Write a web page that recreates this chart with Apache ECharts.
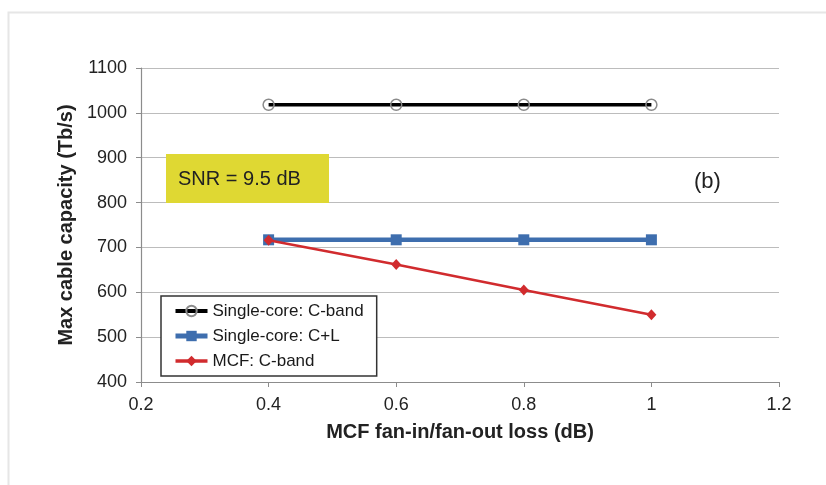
<!DOCTYPE html>
<html>
<head>
<meta charset="utf-8">
<script src="https://cdn.jsdelivr.net/npm/echarts@6/dist/echarts.min.js"></script>
<style>html,body{margin:0;padding:0;background:#fff}#c{width:826px;height:485px}</style>
</head>
<body>
<div id="c"></div>
<script>
const fanLoss = [0.4, 0.6, 0.8, 1.0];
const singleCoreC = [1018, 1018, 1018, 1018];
const singleCoreCL = [717, 717, 717, 717];
const mcfC = [716, 662, 605, 550];
const seriesNames = ['Single-core: C-band', 'Single-core: C+L', 'MCF: C-band'];
const xTitle = 'MCF fan-in/fan-out loss (dB)';
const yTitle = 'Max cable capacity (Tb/s)';
const snrText = 'SNR = 9.5 dB';
const panelLabel = '(b)';

const FONT = "'Liberation Sans', Arial, sans-serif";
const pairs = (ys) => fanLoss.map((x, i) => [x, ys[i]]);

const chart = echarts.init(document.getElementById('c'), null, {renderer: 'canvas'});
chart.setOption({
  animation: false,
  backgroundColor: '#fff',
  textStyle: {fontFamily: FONT},
  grid: {left: 141, right: 47, top: 68, bottom: 103, containLabel: false},
  xAxis: {
    type: 'value', min: 0.2, max: 1.2, interval: 0.2,
    name: xTitle, nameLocation: 'middle', nameGap: 40,
    nameTextStyle: {fontFamily: FONT, fontSize: 20, fontWeight: 'bold', color: '#222'},
    axisLine: {show: true, lineStyle: {color: '#8c8c8c', width: 1.2}},
    axisTick: {show: true, length: 5, lineStyle: {color: '#8c8c8c'}},
    splitLine: {show: false},
    axisLabel: {fontFamily: FONT, fontSize: 18, color: '#222', margin: 14,
      formatter: v => String(Number(v.toFixed(1)))}
  },
  yAxis: {
    type: 'value', min: 400, max: 1100, interval: 100,
    name: yTitle, nameLocation: 'middle', nameGap: 59,
    nameTextStyle: {fontFamily: FONT, fontSize: 20, fontWeight: 'bold', color: '#222'},
    axisLine: {show: true, lineStyle: {color: '#8c8c8c', width: 1.2}},
    axisTick: {show: true, length: 5, lineStyle: {color: '#8c8c8c'}},
    splitLine: {show: true, lineStyle: {color: '#bcbcbc', width: 1.2}},
    axisLabel: {fontFamily: FONT, fontSize: 18, color: '#222', margin: 14,
      formatter: v => String(v)}
  },
  legend: {
    orient: 'vertical', left: 161, top: 296,
    padding: [5, 13, 5, 12], itemGap: 5,
    itemWidth: 32, itemHeight: 13,
    borderColor: '#333', borderWidth: 1.5, backgroundColor: '#fff',
    textStyle: {fontFamily: FONT, fontSize: 17, color: '#1a1a1a', lineHeight: 20},
    data: [
      {name: seriesNames[0], lineStyle: {color: '#000', width: 4}},
      {name: seriesNames[1], lineStyle: {color: '#3e6eae', width: 5}},
      {name: seriesNames[2], lineStyle: {color: '#d12b2e', width: 3.5}}
    ]
  },
  graphic: [
    {type: 'rect', left: 6, top: 10, z: -10, silent: true,
      shape: {width: 900, height: 600},
      style: {fill: 'none', stroke: '#e6e6e6', lineWidth: 2}},
    {type: 'rect', left: 166, top: 154, z: 5,
      shape: {width: 163, height: 49},
      style: {fill: '#dfd833', stroke: 'none'}},
    {type: 'text', left: 178, top: 169, z: 6,
      style: {text: snrText, font: "20px " + FONT, fill: '#222'}},
    {type: 'text', left: 694, top: 171, z: 6,
      style: {text: panelLabel, font: "22px " + FONT, fill: '#222'}}
  ],
  series: [
    {
      name: seriesNames[0], type: 'line', data: pairs(singleCoreC),
      symbol: 'circle', symbolSize: 11,
      lineStyle: {color: '#000', width: 3.5},
      itemStyle: {color: 'rgba(255,255,255,0)', borderColor: '#8a8a8a', borderWidth: 1.5},
      z: 3
    },
    {
      name: seriesNames[1], type: 'line', data: pairs(singleCoreCL),
      symbol: 'rect', symbolSize: 11,
      lineStyle: {color: '#3e6eae', width: 4.5},
      itemStyle: {color: '#3e6eae'},
      z: 4
    },
    {
      name: seriesNames[2], type: 'line', data: pairs(mcfC),
      symbol: 'diamond', symbolSize: [10, 11],
      lineStyle: {color: '#d12b2e', width: 2.5},
      itemStyle: {color: '#d12b2e'},
      z: 5
    }
  ]
});
</script>
</body>
</html>
